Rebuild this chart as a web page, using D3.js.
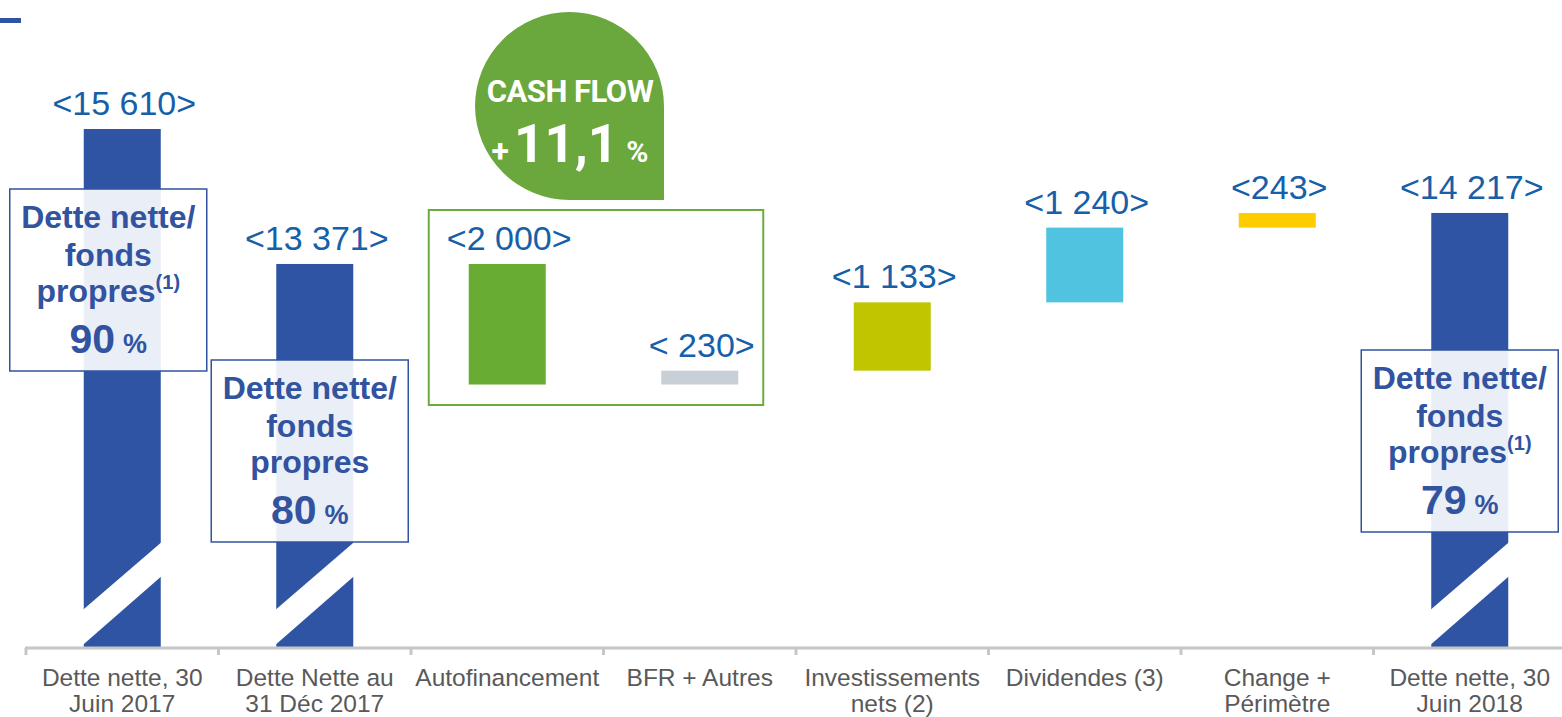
<!DOCTYPE html>
<html>
<head>
<meta charset="utf-8">
<script src="https://cdn.jsdelivr.net/npm/d3@7"></script>
<style>
  html, body { margin: 0; padding: 0; background: #fff; }
  svg { display: block; }
</style>
</head>
<body>
<div id="chart"></div>
<script>
// waterfall: net debt H1 2017 -> H1 2018 (millions)
const categories = [
  'Dette nette, 30\nJuin 2017',
  'Dette Nette au\n31 Déc 2017',
  'Autofinancement',
  'BFR + Autres',
  'Investissements\nnets (2)',
  'Dividendes (3)',
  'Change +\nPérimètre',
  'Dette nette, 30\nJuin 2018',
];
const kinds = ['total', 'total', 'delta', 'delta', 'delta', 'delta', 'delta', 'total'];
const values = [15610, 13371, -2000, 230, 1133, 1240, 243, 14217];
const valueLabels = ['<15 610>', '<13 371>', '<2 000>', '< 230>', '<1 133>', '<1 240>', '<243>', '<14 217>'];
const barColors = ['#2f54a3', '#2f54a3', '#69ac34', '#c9cfd7', '#bfc600', '#4fc3df', '#ffcc00', '#2f54a3'];

// gearing boxes
const ratioCats = [0, 1, 7];
const ratioValues = ['90', '80', '79'];
const ratioNotes = [true, false, true];

const cashFlowLabel = 'CASH FLOW';
const cashFlowValue = '11,1';

const width = 1562;
const height = 717;
const axisY = 648;
const blue = '#2f54a3';
const labelBlue = '#1660a9';
const boxBlue = '#3153a0';

const svg = d3.select('#chart').append('svg')
  .attr('width', width)
  .attr('height', height);

const x = d3.scaleBand().domain(d3.range(categories.length))
  .range([26, 1566]).paddingInner(0.6).paddingOuter(0.3);
// axis is broken: it does not start at zero
const y = d3.scaleLinear().domain([7000, 15610]).range([axisY, 129]);

// running totals for the floating bars
let running = 0;
const bars = values.map((v, i) => {
  if (kinds[i] === 'total') {
    running = v;
    return { i, y0: y.domain()[0], y1: v };
  }
  const b = { i, y0: running, y1: running + v };
  running += v;
  return b;
});

// small mark top-left
svg.append('rect').attr('x', 0).attr('y', 18).attr('width', 21).attr('height', 5).attr('fill', blue);

// bars
svg.selectAll('rect.bar').data(bars).join('rect')
  .attr('class', 'bar')
  .attr('x', (d) => x(d.i))
  .attr('y', (d) => y(Math.max(d.y0, d.y1)))
  .attr('width', x.bandwidth())
  .attr('height', (d) => Math.abs(y(d.y0) - y(d.y1)))
  .attr('fill', (d) => barColors[d.i]);

// break marks on total bars
bars.filter((d) => kinds[d.i] === 'total').forEach((d) => {
  const x0 = x(d.i) - 1;
  const x1 = x(d.i) + x.bandwidth() + 1;
  svg.append('polygon')
    .attr('points', [[x0, axisY - 38], [x1, axisY - 106], [x1, axisY - 72], [x0, axisY - 3]].join(' '))
    .attr('fill', '#fff');
});

// axis
const axisG = svg.append('g').attr('class', 'axis');
axisG.append('line')
  .attr('x1', 25).attr('x2', width).attr('y1', axisY).attr('y2', axisY)
  .attr('stroke', '#c6c6c6').attr('stroke-width', 3);
const gap = x.step() - x.bandwidth();
const ticks = d3.range(categories.length).map((i) => x(i) - gap / 2);
axisG.selectAll('line.tick').data(ticks).join('line')
  .attr('class', 'tick')
  .attr('x1', (d) => d).attr('x2', (d) => d)
  .attr('y1', axisY).attr('y2', axisY + 7)
  .attr('stroke', '#c6c6c6').attr('stroke-width', 3);

axisG.selectAll('text.cat').data(categories).join('text')
  .attr('class', 'cat')
  .attr('text-anchor', 'middle')
  .attr('font-family', 'Liberation Sans, Arial, sans-serif')
  .attr('font-size', 24.5)
  .attr('fill', '#595959')
  .each(function (d, i) {
    const cx = x(i) + x.bandwidth() / 2;
    d.split('\n').forEach((line, k) => {
      d3.select(this).append('tspan')
        .attr('x', cx)
        .attr('y', 686 + k * 26)
        .text(line);
    });
  });

// green frame around cash flow items
svg.append('rect')
  .attr('x', x(2) - 40).attr('y', 210)
  .attr('width', x(3) + x.bandwidth() + 25 - (x(2) - 40)).attr('height', 195)
  .attr('fill', 'none').attr('stroke', '#6aac3e').attr('stroke-width', 2);

// cash flow bubble: three round corners, square bottom-right
const bl = 475, br = 664, bt = 12, bb = 200, r = 94.5;
const drop = d3.path();
drop.moveTo(br, bb);
drop.lineTo(bl + r, bb);
drop.arcTo(bl, bb, bl, bb - r, r);
drop.lineTo(bl, bt + r);
drop.arcTo(bl, bt, bl + r, bt, r);
drop.lineTo(br - r, bt);
drop.arcTo(br, bt, br, bt + r, r);
drop.closePath();
svg.append('path').attr('d', drop.toString()).attr('fill', '#6aa73c');

svg.append('text')
  .attr('x', 570).attr('y', 102)
  .attr('text-anchor', 'middle')
  .attr('font-family', 'Roboto, sans-serif')
  .attr('font-weight', 700)
  .attr('font-size', 31)
  .attr('letter-spacing', -0.5)
  .attr('fill', '#fff')
  .text(cashFlowLabel);

const cf = svg.append('text')
  .attr('x', 570).attr('y', 162)
  .attr('text-anchor', 'middle')
  .attr('font-family', 'Roboto, sans-serif')
  .attr('font-weight', 700)
  .attr('fill', '#fff');
cf.append('tspan').attr('font-size', 32).text('+');
cf.append('tspan').attr('font-size', 53).attr('dx', 5).text(cashFlowValue);
cf.append('tspan').attr('font-size', 30).attr('dx', 8).text('%');

// gearing boxes, semi-transparent over the bars
const boxLayout = [
  { dx: -14, top: 189 },
  { dx: -5, top: 360 },
  { dx: -10, top: 350 },
];
const boxW = 197;
const boxH = 182;
ratioCats.forEach((ci, k) => {
  const cx = x(ci) + x.bandwidth() / 2 + boxLayout[k].dx;
  const top = boxLayout[k].top;
  const g = svg.append('g');
  g.append('rect')
    .attr('x', cx - boxW / 2).attr('y', top)
    .attr('width', boxW).attr('height', boxH)
    .attr('fill', '#fff').attr('fill-opacity', 0.9)
    .attr('stroke', boxBlue).attr('stroke-width', 1.5);

  const t = (yy) => g.append('text')
    .attr('x', cx).attr('y', top + yy)
    .attr('text-anchor', 'middle')
    .attr('font-family', 'Liberation Sans, Arial, sans-serif')
    .attr('font-weight', 700)
    .attr('font-size', 32)
    .attr('fill', boxBlue);

  t(39).text('Dette nette/');
  t(77).text('fonds');
  const l3 = t(113);
  l3.append('tspan').text('propres');
  if (ratioNotes[k]) l3.append('tspan').attr('font-size', 20).attr('dy', -13).text('(1)');
  const l4 = t(164);
  l4.append('tspan').attr('font-size', 41).text(ratioValues[k]);
  l4.append('tspan').attr('font-size', 27).attr('dx', 8).text('%');
});

// value labels above bars
svg.selectAll('text.val').data(bars).join('text')
  .attr('class', 'val')
  .attr('x', (d) => x(d.i) + x.bandwidth() / 2 + 2)
  .attr('y', (d) => y(Math.max(d.y0, d.y1)) - 14)
  .attr('text-anchor', 'middle')
  .attr('font-family', 'Liberation Sans, Arial, sans-serif')
  .attr('font-size', 34)
  .attr('fill', labelBlue)
  .text((d) => valueLabels[d.i]);
</script>
</body>
</html>
